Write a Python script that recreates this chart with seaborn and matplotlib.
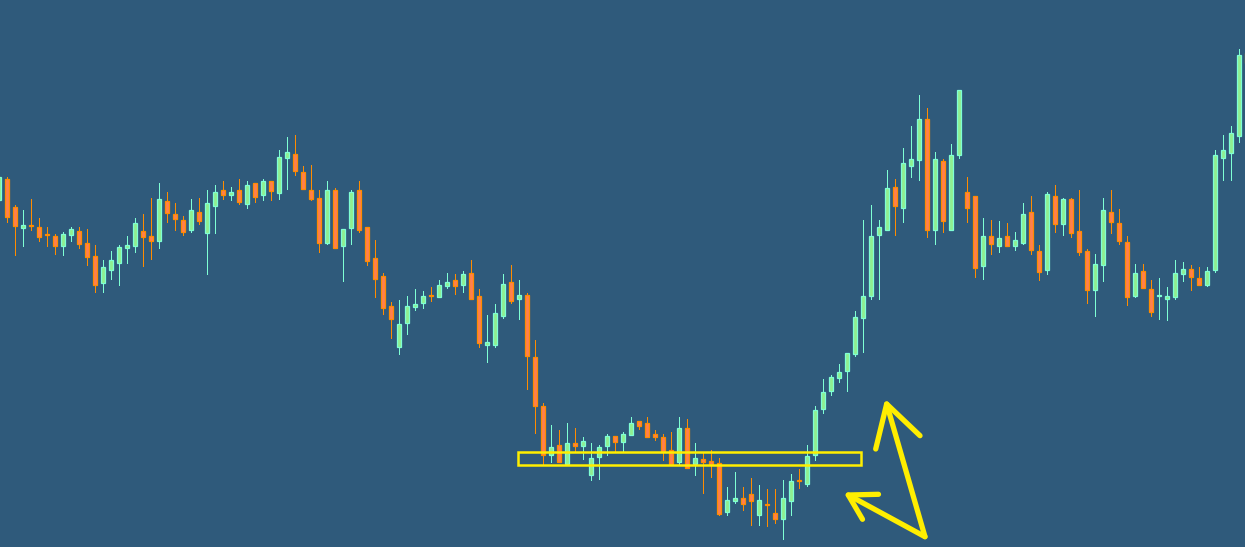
import numpy as np
import pandas as pd
import matplotlib
matplotlib.use("Agg")
import matplotlib.pyplot as plt
import matplotlib.patches as patches
import seaborn as sns

# ---------------------------------------------------------------
# candle data (index -1 and 155 are cut by the chart edges)
# ---------------------------------------------------------------
opens = [347, 368, 340, 319, 322, 320, 313, 311, 301, 312, 316, 304, 291, 264, 277, 284,
         299, 301, 316, 311, 306, 346, 333, 327, 317, 335, 314, 341, 357, 352, 357, 343,
         364, 352, 366, 354, 389, 393, 375, 357, 349, 304, 357, 301, 319, 357, 320, 289,
         271, 241, 200, 224, 240, 244, 252, 250, 261, 267, 262, 274, 251, 202, 202, 231,
         265, 248, 252, 190, 141, 92, 102, 83, 104, 101, 72, 90, 101, 111, 105, 112,
         126, 124, 113, 110, 97, 85, 119, 83, 88, 86, 84, 35, 46, 49, 53, 32,
         43, 34, 28, 46, 67, 63, 92, 138, 156, 169, 176, 193, 229, 251, 312, 317,
         360, 339, 381, 387, 428, 317, 386, 317, 392, 355, 351, 281, 311, 301, 311, 301,
         304, 335, 296, 277, 351, 323, 348, 316, 296, 257, 282, 335, 324, 305, 251, 276,
         258, 251, 248, 250, 273, 278, 269, 262, 277, 389, 394, 411, 494]
highs = [372, 370, 342, 337, 348, 329, 320, 313, 315, 320, 320, 318, 302, 287, 296, 302,
         311, 329, 333, 349, 364, 355, 344, 331, 348, 349, 357, 362, 366, 360, 368, 366,
         364, 368, 366, 397, 410, 412, 381, 382, 357, 366, 359, 318, 357, 366, 320, 307,
         274, 245, 247, 251, 258, 256, 260, 267, 274, 273, 276, 287, 258, 232, 243, 273,
         282, 267, 254, 207, 144, 122, 117, 124, 119, 110, 104, 102, 113, 111, 115, 130,
         126, 130, 117, 113, 115, 130, 128, 104, 95, 97, 89, 60, 75, 60, 69, 62,
         58, 58, 67, 73, 78, 102, 141, 168, 172, 183, 194, 236, 327, 342, 327, 377,
         368, 399, 421, 452, 439, 395, 388, 403, 457, 370, 351, 329, 327, 326, 324, 315,
         344, 351, 302, 355, 362, 349, 349, 357, 298, 293, 349, 357, 338, 311, 283, 283,
         267, 269, 260, 287, 285, 282, 280, 280, 397, 412, 421, 498, 497]
lows = [345, 325, 292, 301, 317, 306, 301, 293, 292, 306, 299, 282, 255, 255, 268, 262,
        284, 295, 281, 288, 299, 325, 317, 312, 315, 323, 273, 314, 348, 347, 343, 339,
        345, 347, 347, 348, 358, 372, 358, 347, 295, 303, 299, 266, 303, 315, 282, 250,
        233, 209, 193, 213, 237, 239, 246, 250, 259, 253, 255, 248, 200, 185, 200, 229,
        244, 228, 158, 114, 82, 85, 85, 83, 95, 88, 67, 68, 92, 95, 95, 112,
        118, 110, 107, 87, 83, 83, 79, 72, 54, 70, 32, 32, 44, 37, 22, 22,
        21, 24, 8, 32, 59, 61, 87, 134, 152, 165, 156, 191, 195, 248, 248, 317,
        312, 325, 370, 367, 310, 303, 315, 317, 389, 325, 270, 268, 293, 295, 301, 297,
        303, 293, 267, 273, 315, 312, 310, 292, 244, 231, 266, 314, 303, 242, 250, 259,
        231, 228, 227, 248, 266, 257, 262, 261, 275, 367, 367, 405, 481]
closes = [370, 330, 321, 322, 321, 310, 312, 301, 313, 318, 303, 290, 262, 280, 287, 300,
          302, 324, 310, 306, 348, 334, 328, 315, 337, 326, 344, 355, 352, 355, 345, 362,
          350, 366, 356, 390, 395, 376, 358, 348, 304, 357, 299, 318, 355, 317, 286, 268,
          239, 228, 223, 241, 243, 251, 251, 262, 265, 261, 273, 248, 204, 205, 234, 263,
          246, 252, 191, 141, 92, 100, 85, 104, 101, 106, 89, 100, 111, 105, 113, 124,
          121, 110, 110, 96, 83, 119, 79, 89, 85, 83, 33, 47, 49, 43, 46, 47,
          42, 28, 49, 66, 66, 91, 137, 155, 170, 175, 194, 230, 251, 311, 320, 359,
          341, 384, 388, 428, 317, 388, 326, 392, 457, 339, 279, 311, 303, 309, 301, 307,
          333, 297, 275, 353, 323, 348, 314, 295, 257, 283, 337, 325, 306, 250, 274, 259,
          235, 252, 251, 274, 278, 270, 262, 276, 392, 397, 414, 492, 484]
first_index = -1

# yellow marks drawn on top of the chart
zone_x = [63.94, 106.81]
zone_y = [82, 95]
arrow_up = [(108.65, 98), (110.02, 143), (114.19, 111.3)]
arrow_up_shaft = [(110.02, 143), (114.81, 10.3)]
arrow_left = [(109.0, 52.7), (105.22, 52), (107.0, 27.7)]
arrow_left_shaft = [(105.22, 52), (114.81, 10.3)]

BG = "#2f5a7b"
BULL_FILL, BULL_EDGE = "#90ee90", "#7fffd4"
BEAR_FILL, BEAR_EDGE = "#ff7f50", "#ff8c00"
YELLOW = "#ffee00"

df = pd.DataFrame({"open": opens, "high": highs, "low": lows, "close": closes})
df["idx"] = np.arange(len(df)) + first_index
df["bull"] = df["close"] >= df["open"]

sns.set_theme(style="dark", rc={"axes.facecolor": BG, "figure.facecolor": BG})

fig = plt.figure(figsize=(12.45, 5.47), dpi=100)
ax = fig.add_axes([0, 0, 1, 1])

for is_bull, grp in df.groupby("bull"):
    fill = BULL_FILL if is_bull else BEAR_FILL
    edge = BULL_EDGE if is_bull else BEAR_EDGE
    ax.vlines(grp["idx"], grp["low"], grp["high"], color=edge, linewidth=0.72,
              antialiased=False, zorder=2)
    body_lo = grp[["open", "close"]].min(axis=1)
    body_h = (grp["close"] - grp["open"]).abs().clip(lower=1)
    ax.bar(grp["idx"], body_h, bottom=body_lo, width=0.5, color=fill,
           edgecolor=edge, linewidth=0.9, zorder=3)

ax.add_patch(patches.Rectangle((zone_x[0], zone_y[0]), zone_x[1] - zone_x[0],
                               zone_y[1] - zone_y[0], fill=False,
                               edgecolor=YELLOW, linewidth=1.8, zorder=4))

for path in [arrow_up, arrow_up_shaft, arrow_left, arrow_left_shaft]:
    xs, ys = zip(*path)
    ax.plot(xs, ys, color=YELLOW, linewidth=3.8, solid_capstyle="round",
            solid_joinstyle="round", zorder=5)

ax.set_xlim(-0.8125, 154.8125)
ax.set_ylim(0, 547)
ax.set_axis_off()

fig.savefig("out.png", dpi=100, facecolor=BG)
